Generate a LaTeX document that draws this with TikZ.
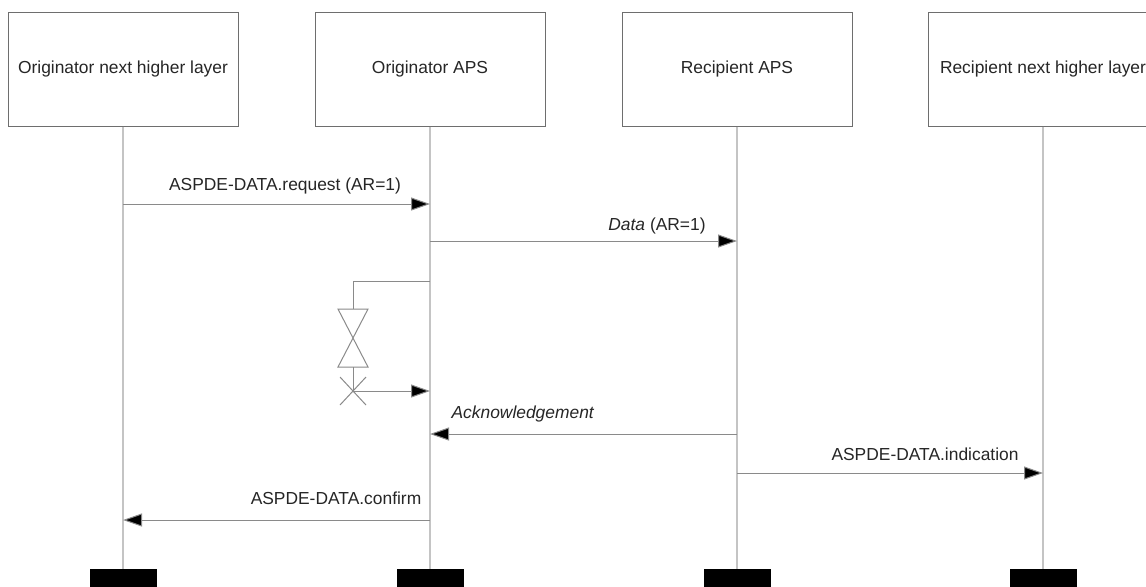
\documentclass[tikz,border=0pt]{standalone}
\usepackage{fontspec}
\setmainfont{Liberation Sans}
\usetikzlibrary{arrows.meta}
\definecolor{lifegray}{HTML}{C4C4C4}
\definecolor{msggray}{HTML}{8A8A8A}
\definecolor{boxgray}{HTML}{6E6E6E}
\begin{document}
\begin{tikzpicture}[x=0.5pt,y=-0.5pt,
    every node/.style={font=\fontsize{8.7}{10}\selectfont,text=black!85},
    party/.style={draw=boxgray,line width=0.5pt,fill=white,minimum width=115pt,minimum height=57pt,inner sep=0pt},
    endbar/.style={fill=black,minimum width=33.5pt,minimum height=9pt,inner sep=0pt,anchor=north},
    life/.style={draw=lifegray,line width=0.6pt},
    msg/.style={draw=msggray,line width=0.5pt,-{Triangle[length=9.5pt,width=6.5pt,fill=black]}},
    timer/.style={draw=msggray,line width=0.5pt}]
\clip (0,0) rectangle (1146,586);
\fill[white] (0,0) rectangle (1146,586);
% parties, lifelines and end bars
\foreach \x/\nm/\txt in {123/onhl/Originator next higher layer,
                         430/oaps/Originator APS,
                         737/raps/Recipient APS,
                         1043/rnhl/Recipient next higher layer} {
   \node[party] (\nm) at (\x,69) {\txt};
   \node[endbar] (\nm-end) at (\x,569) {};
   \draw[life] (\nm.south) -- (\nm-end.north);
}
% points on the lifelines
\coordinate (req-a) at (123,204);  \coordinate (req-b) at (430,204);
\coordinate (dat-a) at (430,241);  \coordinate (dat-b) at (737,241);
\coordinate (tmr-a) at (430,281);  \coordinate (tmr-b) at (353,281);
\coordinate (tmr-c) at (353,309);  \coordinate (tmr-d) at (353,367);
\coordinate (tmr-x) at (353,391);  \coordinate (tmr-e) at (430,391);
\coordinate (ack-a) at (737,434);  \coordinate (ack-b) at (430,434);
\coordinate (ind-a) at (737,473);  \coordinate (ind-b) at (1043,473);
\coordinate (cnf-a) at (430,520);  \coordinate (cnf-b) at (123,520);
% messages
\draw[msg] (req-a) -- (req-b);
\node (lreq) at (285,186) {ASPDE-DATA.request (AR=1)};
\draw[msg] (dat-a) -- (dat-b);
\node (ldat) at (657,226) {\textit{Data} (AR=1)};
% retry timer
\draw[timer] (tmr-a) -- (tmr-b) -- (tmr-c);
\draw[timer] ([xshift=-7.5pt]tmr-c) -- ([xshift=7.5pt]tmr-c) -- ([xshift=-7.5pt]tmr-d) -- ([xshift=7.5pt]tmr-d) -- cycle;
\draw[timer] (tmr-d) -- (tmr-x);
\draw[timer] ([shift={(-13,-14)}]tmr-x) -- ([shift={(13,14)}]tmr-x)
             ([shift={(-13,14)}]tmr-x) -- ([shift={(13,-14)}]tmr-x);
\draw[msg] (tmr-x) -- (tmr-e);
\draw[msg] (ack-a) -- (ack-b);
\node (lack) at (523,414) {\textit{Acknowledgement}};
\draw[msg] (ind-a) -- (ind-b);
\node (lind) at (925,454) {ASPDE-DATA.indication};
\draw[msg] (cnf-a) -- (cnf-b);
\node (lcnf) at (336,498) {ASPDE-DATA.confirm};
\end{tikzpicture}
\end{document}
